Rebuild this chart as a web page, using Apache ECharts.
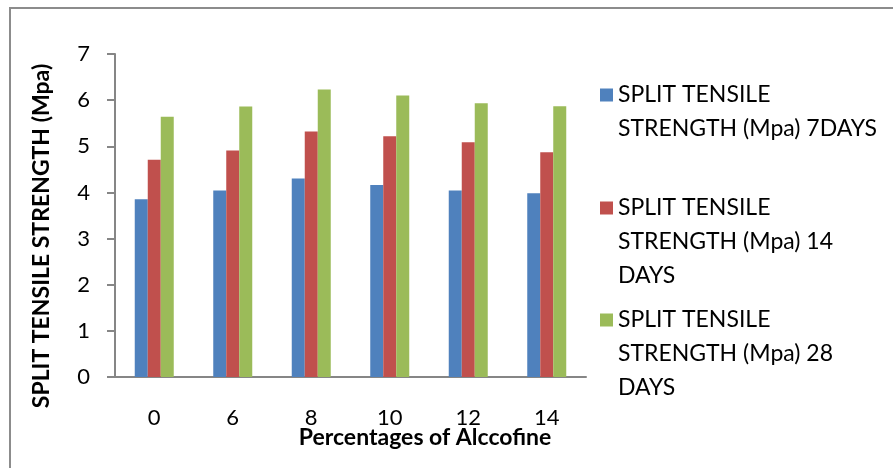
<!DOCTYPE html>
<html><head><meta charset="utf-8">
<script src="https://cdn.jsdelivr.net/npm/echarts@6/dist/echarts.min.js"></script>
<style>html,body{margin:0;padding:0;background:#fff}#c{width:893px;height:468px}</style>
</head><body><div id="c"></div>
<script>
const categories = ['0','6','8','10','12','14'];
const s7 = [3.85, 4.04, 4.30, 4.16, 4.04, 3.98];
const s14 = [4.71, 4.91, 5.32, 5.22, 5.09, 4.87];
const s28 = [5.64, 5.86, 6.23, 6.10, 5.93, 5.87];
const names = ['SPLIT TENSILE STRENGTH (Mpa) 7DAYS','SPLIT TENSILE STRENGTH (Mpa) 14 DAYS','SPLIT TENSILE STRENGTH (Mpa) 28 DAYS'];
const labelLines = [['SPLIT TENSILE','STRENGTH (Mpa) 7DAYS'],['SPLIT TENSILE','STRENGTH (Mpa) 14','DAYS'],['SPLIT TENSILE','STRENGTH (Mpa) 28','DAYS']];
const colors = ['#4f81bd','#c0504d','#9bbb59'];
const FONT = 'Lato';
const LH = 34;
const chart = echarts.init(document.getElementById('c'), null, {renderer:'canvas'});
// icon centred on first text line: pad with blank lines above
function legendFor(i, iconY){
  const lines = labelLines[i];
  const padded = new Array(lines.length - 1).fill('').concat(lines);
  const total = padded.length * LH;
  return {
    data:[names[i]], left:600, top: iconY - total/2, padding:0, orient:'vertical',
    itemWidth:13, itemHeight:13, icon:'rect',
    formatter: () => padded.join('\n'),
    textStyle:{fontFamily:FONT, fontSize:23, color:'#000', lineHeight:LH}
  };
}
chart.setOption({
  animation:false,
  color: colors,
  grid:{left:115, right:307, top:54, bottom:91, containLabel:false},
  legend:[legendFor(0, 95), legendFor(1, 208), legendFor(2, 320)],
  xAxis:{type:'category', data:categories,
    axisLine:{lineStyle:{color:'#868686', width:2}},
    axisTick:{show:false},
    axisLabel:{fontFamily:FONT, fontSize:22, color:'#000', margin:30}
  },
  yAxis:{type:'value', min:0, max:7, interval:1,
    axisLine:{show:true, lineStyle:{color:'#868686', width:2}},
    axisTick:{show:true, length:8, lineStyle:{color:'#868686', width:2}},
    splitLine:{show:false},
    axisLabel:{fontFamily:FONT, fontSize:22, color:'#000', margin:25}
  },
  series:[
    {name:names[0], type:'bar', data:s7, barWidth:13, barGap:'0%'},
    {name:names[1], type:'bar', data:s14, barWidth:13, barGap:'0%'},
    {name:names[2], type:'bar', data:s28, barWidth:13, barGap:'0%'}
  ],
  graphic:[
    {type:'rect', shape:{x:10, y:8, width:900, height:500}, style:{fill:'none', stroke:'#8c8c8c', lineWidth:2}, silent:true},
    {type:'text', x:425, y:438, style:{text:'Percentages of Alccofine', fontFamily:FONT, fontWeight:'bold', fontSize:23, fill:'#000', textAlign:'center', textVerticalAlign:'middle'}},
    {type:'text', x:42, y:236, rotation:Math.PI/2, style:{text:'SPLIT TENSILE STRENGTH (Mpa)', fontFamily:FONT, fontWeight:'bold', fontSize:23, fill:'#000', textAlign:'center', textVerticalAlign:'middle'}}
  ]
});
</script></body></html>
